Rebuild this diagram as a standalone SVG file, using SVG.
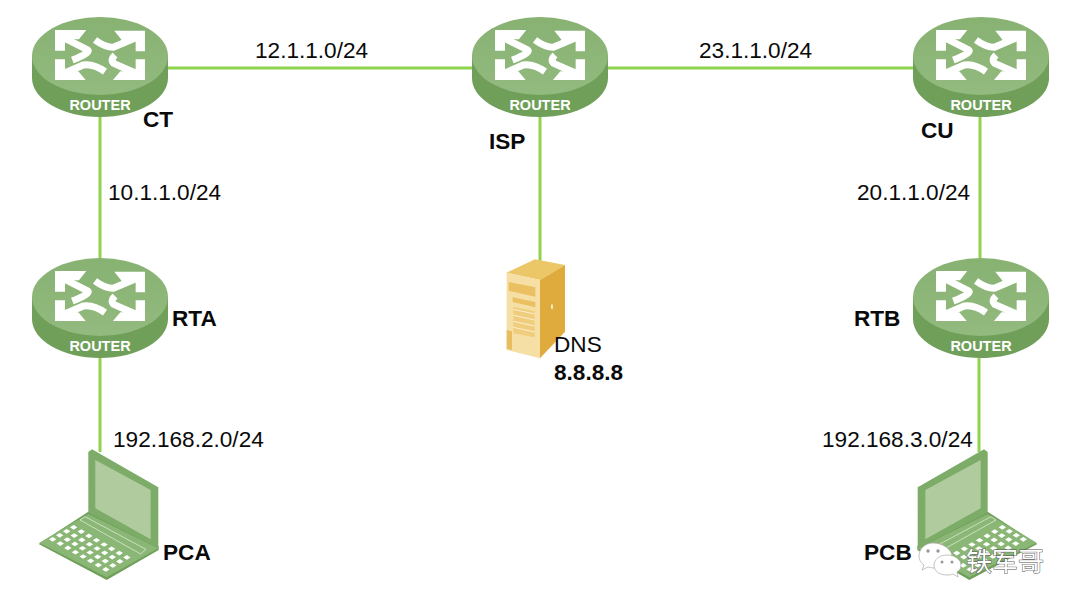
<svg xmlns="http://www.w3.org/2000/svg" xmlns:xlink="http://www.w3.org/1999/xlink" width="1080" height="609" viewBox="0 0 1080 609">
<style>
.lnk{stroke:#8fd24c;stroke-width:3;fill:none}
.t{font-family:"Liberation Sans",Arial,sans-serif;font-size:22.6px;fill:#0a0a0a}
.b{font-weight:bold}
.rt{font-family:"Liberation Sans",Arial,sans-serif;font-size:14.500px;font-weight:bold;fill:#fff;text-anchor:middle}
.wm{font-family:"Noto Sans CJK SC",sans-serif;font-size:26px;fill:#fff;stroke:#555;stroke-width:1;paint-order:stroke}
.ar{fill:none;stroke:#fff;stroke-width:21}
</style>
<defs>
<linearGradient id="rtop" x1="0" y1="0" x2="0" y2="1"><stop offset="0" stop-color="#87b272"/><stop offset="1" stop-color="#93ba7f"/></linearGradient>
<g id="router">
<path d="M-68 39V61C-68 82.500-37.600 100 0 100S68 82.500 68 61V39Z" fill="#6f9f59"/>
<ellipse cx="0" cy="39" rx="68" ry="39" fill="url(#rtop)"/>
<g transform="translate(-85,-7) scale(.3333)">
<path class="ar" d="M135 78L218 120Q228 128 172 150"/>
<path fill="#fff" d="M120 60H214L192 88H150V122H120Z"/>
<path class="ar" d="M375 78L295 112Q270 112 240 90"/>
<path fill="#fff" d="M390 62H298L320 90H362V124H390Z"/>
<path class="ar" d="M135 195L205 165Q235 160 270 185"/>
<path fill="#fff" d="M120 210H212L190 184H150V148H120Z"/>
<path class="ar" d="M375 195L296 160Q285 150 300 135"/>
<path fill="#fff" d="M390 210H294L316 184H362V148H390Z"/>
</g>
</g>
<path id="key" fill="#fff" d="M-11 0L0-7L11 0L0 7Z"/>
<g id="keyrow">
<use href="#key"/><use href="#key" x="22.800" y="12.900"/><use href="#key" x="45.600" y="25.800"/><use href="#key" x="68.400" y="38.700"/><use href="#key" x="91.200" y="51.600"/><use href="#key" x="114" y="64.500"/><use href="#key" x="136.800" y="77.400"/><use href="#key" x="159.600" y="90.300"/>
</g>
<g id="laptop">
<path d="M26 312L230 420L386 330V318L175 215Z" fill="#6f9f59"/>
<path d="M28 308L175 222L385 325L230 412Z" fill="#8ab676"/>
<path d="M175 36L186 28L385 142V325L175 218Z" fill="#7dab68"/>
<path d="M196 60L362 150V298L196 205Z" fill="#b0cc9e"/>
<path d="M150 240L165 230L348 328L332 342Z" fill="none" stroke="#d8e8cc" stroke-width="2.500"/>
<use href="#keyrow" x="68" y="298"/><use href="#keyrow" x="89" y="286"/><use href="#keyrow" x="110" y="274"/><use href="#keyrow" x="131" y="262"/>
</g>
</defs>
<rect width="1080" height="609" fill="#fff"/>
<g id="connectors">
<path class="lnk" d="M168 68H472"/>
<path class="lnk" d="M608 68H913"/>
<path class="lnk" d="M100 117V258"/>
<path class="lnk" d="M540 117V262"/>
<path class="lnk" d="M980 117V258"/>
<path class="lnk" d="M100 358V452"/>
<path class="lnk" d="M979 358V452"/>
</g>
<g id="CT"><use href="#router" x="100" y="17"/><text class="rt" x="100" y="110">ROUTER</text><text class="t b" x="143" y="127">CT</text></g>
<g id="ISP"><use href="#router" x="540" y="17"/><text class="rt" x="540" y="110">ROUTER</text><text class="t b" x="489" y="149">ISP</text></g>
<g id="CU"><use href="#router" x="981" y="17"/><text class="rt" x="981" y="110">ROUTER</text><text class="t b" x="921" y="138">CU</text></g>
<g id="RTA"><use href="#router" x="100" y="258"/><text class="rt" x="100" y="351">ROUTER</text><text class="t b" x="172" y="326">RTA</text></g>
<g id="RTB"><use href="#router" x="981" y="258"/><text class="rt" x="981" y="351">ROUTER</text><text class="t b" x="854" y="326">RTB</text></g>
<g id="DNS">
<g transform="translate(490,250) scale(.3333)">
<path d="M50 68L135 28L225 45L150 90Z" fill="#ecc767"/>
<path d="M150 90L225 45V245L150 325Z" fill="#dfab3d"/>
<path d="M50 68L150 90V325L50 300Z" fill="#f6dfa4"/>
<path d="M56 96L136 112V140L56 122ZM68 142L136 156V172L68 156Z" fill="#eac062"/>
<path d="M70 170L134 184V262L70 250Z" fill="#efcd7c"/>
<path d="M70 178L134 192M70 196L134 210M70 214L134 228M70 232L134 246" stroke="#fbf0d0" stroke-width="3"/>
<path d="M50 240L66 244V300L50 296Z" fill="#e7bd5f"/>
<ellipse cx="186" cy="170" rx="3" ry="8" fill="#fbf0d0"/>
</g>
<text class="t" x="554" y="352">DNS</text>
<text class="t b" x="554" y="380">8.8.8.8</text>
</g>
<g id="PCA"><use href="#laptop" transform="translate(30,440) scale(.3333)"/><text class="t b" x="163" y="560">PCA</text></g>
<g id="PCB"><use href="#laptop" transform="translate(1046,440) scale(-.3333,.3333)"/><text class="t b" x="864" y="560">PCB</text></g>
<g id="labels">
<text class="t" x="255" y="58">12.1.1.0/24</text>
<text class="t" x="699" y="58">23.1.1.0/24</text>
<text class="t" x="108" y="200">10.1.1.0/24</text>
<text class="t" x="857" y="200">20.1.1.0/24</text>
<text class="t" x="113" y="447">192.168.2.0/24</text>
<text class="t" x="822" y="447">192.168.3.0/24</text>
</g>
<g id="watermark">
<path d="M933 543C925 543 919 549 919 556C919 560 921 563 924 565L922 570L928 567C931 568 934 568 937 568L952 555C950 548 942 543 933 543Z" fill="#fff" stroke="#aaa" stroke-width=".7"/>
<path d="M947 555C939 555 934 560 934 565C934 571 939 575 947 575C949 575 951 575 953 574L958 577L957 572C960 570 961 568 961 565C961 560 955 555 947 555Z" fill="#fff" stroke="#aaa" stroke-width=".7"/>
<circle cx="928" cy="551" r="1.700" fill="#999"/><circle cx="938" cy="551" r="1.700" fill="#999"/>
<circle cx="942" cy="562" r="1.500" fill="#999"/><circle cx="952" cy="562" r="1.500" fill="#999"/>
<text class="wm" x="966" y="571">铁军哥</text>
</g>
</svg>
